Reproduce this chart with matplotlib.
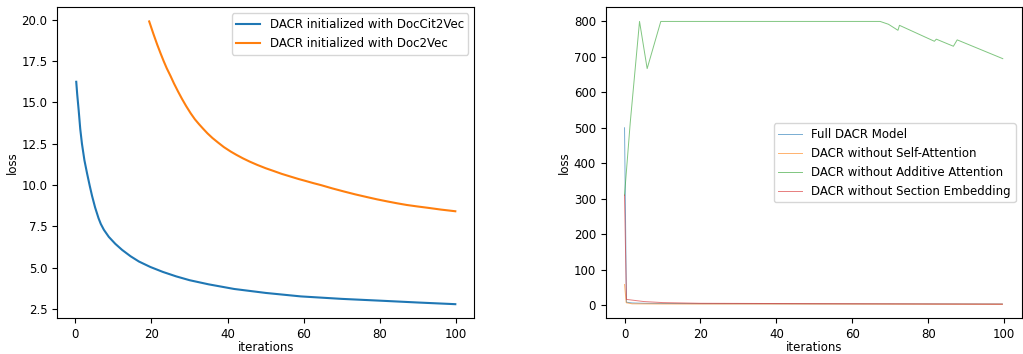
import matplotlib
matplotlib.use('Agg')
import matplotlib.pyplot as plt

plt.rcParams['font.size'] = 8.5

# loss curves for the two initializations
docCit2vec_iter = [0.25, 0.5, 0.9, 1.3, 1.75, 2.4, 3.1, 3.8, 4.4, 5.2, 6.1, 6.7, 7.5, 8.8, 10.5,
                   12.3, 14.5, 16.7, 19.7, 23.0, 26.5, 30.0, 35.0, 41.7, 50.0, 59.2, 70.0,
                   81.1, 90.0, 99.75]
docCit2vec_loss = [16.25, 15.5, 14.5, 13.4, 12.5, 11.5, 10.7, 9.95, 9.35, 8.65, 8.0, 7.65, 7.3, 6.87, 6.45,
                   6.08, 5.7, 5.38, 5.05, 4.75, 4.48, 4.25, 4.0, 3.72, 3.48, 3.27, 3.12,
                   3.0, 2.9, 2.8]

doc2vec_iter = [19.4, 20.5, 21.5, 22.4, 23.2, 24.0, 25.0, 25.9, 27.0, 28.0, 29.1, 30.3, 31.4,
                32.5, 33.6, 34.7, 36.0, 37.5, 39.0, 40.8, 42.3, 44.0, 45.8, 47.8, 50.0, 52.0,
                54.2, 56.6, 58.6, 60.5, 62.5, 64.5, 67.5, 70.6, 73.5, 76.5, 79.2, 82.0, 84.5,
                87.0, 89.8, 92.5, 96.0, 99.75]
doc2vec_loss = [19.9, 19.15, 18.5, 17.96, 17.5, 17.07, 16.6, 16.15, 15.65, 15.22, 14.78, 14.34, 13.98,
                13.68, 13.4, 13.13, 12.85, 12.57, 12.3, 12.03, 11.83, 11.62, 11.42, 11.22, 11.02, 10.86,
                10.68, 10.51, 10.37, 10.25, 10.12, 10.0, 9.8, 9.61, 9.44, 9.28, 9.14, 9.01, 8.9,
                8.8, 8.71, 8.63, 8.52, 8.42]

# ablation runs
full_iter = [0.0, 0.5, 2.0, 5.0, 10.0, 20.0, 50.0, 99.5]
full_loss = [500, 8, 6, 5, 4.5, 4, 3.5, 3]

no_self_iter = [0.0, 0.45, 2.0, 10.0, 30.0, 60.0, 99.5]
no_self_loss = [58, 6.5, 3.5, 3, 3, 2.8, 2.5]

no_additive_iter = [0.0, 1.5, 3.95, 5.96, 9.55, 67.3, 69.5, 72.0, 72.4, 81.6, 82.1, 86.6, 87.6, 99.6]
no_additive_loss = [310, 514, 800, 667, 800, 800, 792, 775, 789, 744, 750, 730, 748, 695]

no_section_iter = [0.0, 0.5, 5.0, 10.0, 20.0, 50.0, 99.5]
no_section_loss = [310, 16, 10, 7, 5, 4, 2.5]

fig = plt.figure(figsize=(10.23, 3.54), dpi=100)

ax1 = fig.add_axes([0.056, 0.1008, 0.4076, 0.8786])
ax1.plot(docCit2vec_iter, docCit2vec_loss, label='DACR initialized with DocCit2Vec')
ax1.plot(doc2vec_iter, doc2vec_loss, label='DACR initialized with Doc2Vec')
ax1.set_xlabel('iterations', labelpad=0)
ax1.set_ylabel('loss', labelpad=2)
ax1.set_yticks([2.5, 5.0, 7.5, 10.0, 12.5, 15.0, 17.5, 20.0])
ax1.legend(loc='upper right')

ax2 = fig.add_axes([0.592, 0.1008, 0.4067, 0.8786])
ax2.plot(full_iter, full_loss, lw=0.7, alpha=0.6, label='Full DACR Model')
ax2.plot(no_self_iter, no_self_loss, lw=0.7, alpha=0.6, label='DACR without Self-Attention')
ax2.plot(no_additive_iter, no_additive_loss, lw=0.7, alpha=0.6, label='DACR without Additive Attention')
ax2.plot(no_section_iter, no_section_loss, lw=0.7, alpha=0.6, label='DACR without Section Embedding')
ax2.set_xlabel('iterations', labelpad=0)
ax2.set_ylabel('loss', labelpad=2)
ax2.legend(loc='center right')

fig.savefig('out.png', dpi=100)
